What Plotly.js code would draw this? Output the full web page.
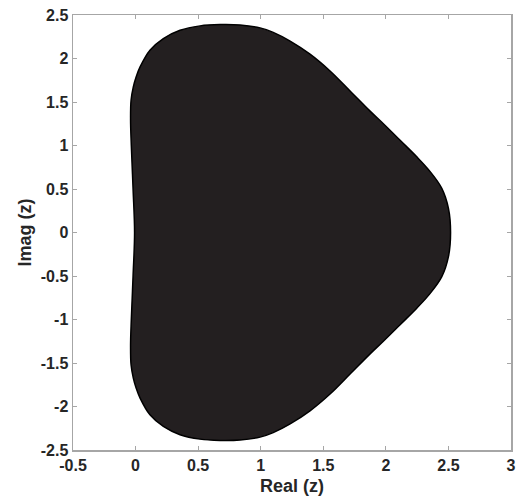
<!DOCTYPE html>
<html>
<head>
<meta charset="utf-8">
<script src="https://cdn.plot.ly/plotly-3.0.1.min.js"></script>
<style>html,body{margin:0;padding:0;background:#fff;}#chart{width:518px;height:504px;}</style>
</head>
<body>
<div id="chart"></div>
<script>
// Boundary of the region (closed curve)
var realZ = [-0.008, -0.020, -0.034, -0.040, -0.036, -0.018, 0.005, 0.036, 0.115, 0.222, 0.355, 0.515, 0.675, 0.835, 0.995, 1.100, 1.235, 1.394, 1.554, 1.714, 1.874, 1.980, 2.114, 2.247, 2.354, 2.447, 2.500, 2.517,
             2.500, 2.447, 2.354, 2.247, 2.114, 1.980, 1.874, 1.714, 1.554, 1.394, 1.235, 1.100, 0.995, 0.835, 0.675, 0.515, 0.355, 0.222, 0.115, 0.036, 0.005, -0.018, -0.036, -0.040, -0.034, -0.020, -0.008];
var imagZ = [0.000, 0.500, 1.000, 1.300, 1.520, 1.673, 1.790, 1.903, 2.095, 2.229, 2.324, 2.375, 2.390, 2.385, 2.352, 2.300, 2.200, 2.050, 1.857, 1.627, 1.395, 1.250, 1.060, 0.870, 0.700, 0.508, 0.278, 0.000,
             -0.278, -0.508, -0.700, -0.870, -1.060, -1.250, -1.395, -1.627, -1.857, -2.050, -2.200, -2.300, -2.352, -2.385, -2.390, -2.375, -2.324, -2.229, -2.095, -1.903, -1.790, -1.673, -1.520, -1.300, -1.000, -0.500, 0.000];
var xTicks = [-0.5, 0, 0.5, 1, 1.5, 2, 2.5, 3];
var yTicks = [-2.5, -2, -1.5, -1, -0.5, 0, 0.5, 1, 1.5, 2, 2.5];

var fam = 'Liberation Sans, Arial, sans-serif';
var tickFont = {family: fam, size: 16, color: '#262626', weight: 'bold'};
var trace = {
  x: realZ, y: imagZ, type: 'scatter', mode: 'lines',
  fill: 'toself', fillcolor: '#231f20',
  line: {color: '#000000', width: 1.5, shape: 'spline', smoothing: 1},
  hoverinfo: 'skip', showlegend: false
};
var axisCommon = {
  showgrid: false, zeroline: false, showline: true, mirror: 'ticks',
  linecolor: '#a6a6a6', linewidth: 1.5, ticks: 'inside', ticklen: 4,
  tickcolor: '#a6a6a6', tickwidth: 1, tickfont: tickFont
};
var layout = {
  width: 518, height: 504,
  margin: {l: 73, r: 7, t: 15, b: 54},
  paper_bgcolor: '#ffffff', plot_bgcolor: '#ffffff',
  xaxis: Object.assign({}, axisCommon, {
    range: [-0.5, 3], tickmode: 'array', tickvals: xTicks,
    ticktext: xTicks.map(String),
    title: {text: 'Real (z)', font: {family: fam, size: 18, color: '#262626', weight: 'bold'}, standoff: 6}
  }),
  yaxis: Object.assign({}, axisCommon, {
    range: [-2.5, 2.5], tickmode: 'array', tickvals: yTicks,
    ticktext: yTicks.map(String),
    title: {text: 'Imag (z)', font: {family: fam, size: 18, color: '#262626', weight: 'bold'}, standoff: 4}
  })
};
Plotly.newPlot('chart', [trace], layout, {displayModeBar: false, staticPlot: true});
</script>
</body>
</html>
